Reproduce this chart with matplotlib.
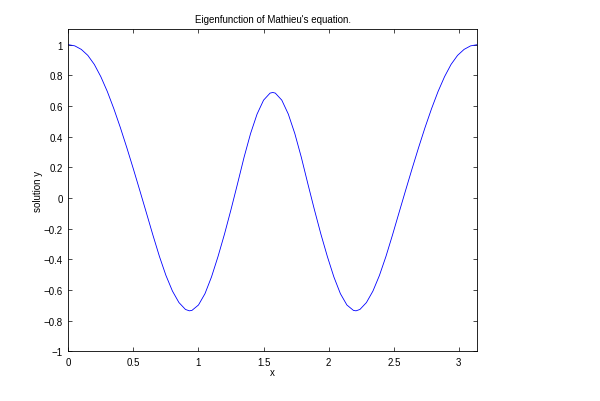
import numpy as np
import matplotlib
matplotlib.use("Agg")
import matplotlib.pyplot as plt

# values
x_vals = [0.00, 0.05, 0.10, 0.15, 0.20, 0.25, 0.30, 0.35, 0.40, 0.45,
          0.50, 0.55, 0.60, 0.65, 0.70, 0.75, 0.80, 0.85, 0.90, 0.93,
          0.95, 1.00, 1.05, 1.10, 1.15, 1.20, 1.25, 1.30, 1.35, 1.40,
          1.45, 1.50, 1.55, 1.5708,
          1.59, 1.64, 1.69, 1.74, 1.79, 1.84, 1.89, 1.94, 1.99, 2.04,
          2.09, 2.14, 2.19, 2.21, 2.24, 2.29, 2.34, 2.39, 2.44, 2.49,
          2.54, 2.59, 2.64, 2.69, 2.74, 2.79, 2.84, 2.89, 2.94, 2.99,
          3.04, 3.09, 3.1416]
y_vals = [1.000, 0.992, 0.969, 0.930, 0.871, 0.791, 0.694, 0.582, 0.459, 0.327,
          0.189, 0.047, -0.097, -0.242, -0.381, -0.505, -0.607, -0.682, -0.727, -0.736,
          -0.733, -0.698, -0.624, -0.515, -0.382, -0.235, -0.075, 0.093, 0.265, 0.420,
          0.547, 0.638, 0.684, 0.688,
          0.684, 0.638, 0.547, 0.420, 0.265, 0.093, -0.075, -0.235, -0.382, -0.515,
          -0.624, -0.698, -0.733, -0.736, -0.727, -0.682, -0.607, -0.505, -0.381, -0.242,
          -0.097, 0.047, 0.189, 0.327, 0.459, 0.582, 0.694, 0.791, 0.871, 0.930,
          0.969, 0.992, 1.000]

x_ticks = [0, 0.5, 1, 1.5, 2, 2.5, 3]
x_tick_labels = ["0", "0.5", "1", "1.5", "2", "2.5", "3"]
y_ticks = [-1, -0.8, -0.6, -0.4, -0.2, 0, 0.2, 0.4, 0.6, 0.8, 1]
y_tick_labels = ["\u22121", "\u22120.8", "\u22120.6", "\u22120.4", "\u22120.2", "0",
                 "0.2", "0.4", "0.6", "0.8", "1"]

plt.rcParams["font.family"] = ["Liberation Sans", "DejaVu Sans"]
plt.rcParams["font.size"] = 7

fig = plt.figure(figsize=(6, 4.02), dpi=100)
ax = fig.add_axes([0.1138, 0.1236, 0.6817, 0.801])

ax.plot(x_vals, y_vals, color="#0000ff", linewidth=0.6)

ax.set_xlim(0, np.pi)
ax.set_ylim(-1, 1.1)
ax.set_xticks(x_ticks)
ax.set_xticklabels(x_tick_labels)
ax.set_yticks(y_ticks)
ax.set_yticklabels(y_tick_labels)
ax.tick_params(direction="in", length=3, width=0.5, top=True, right=True, pad=4)
for s in ax.spines.values():
    s.set_linewidth(0.6)

ax.set_title("Eigenfunction of Mathieu's equation.", fontsize=7, pad=5)
ax.set_xlabel("x", labelpad=0)
ax.set_ylabel("solution y", labelpad=0)

fig.savefig("out.png", dpi=100)
